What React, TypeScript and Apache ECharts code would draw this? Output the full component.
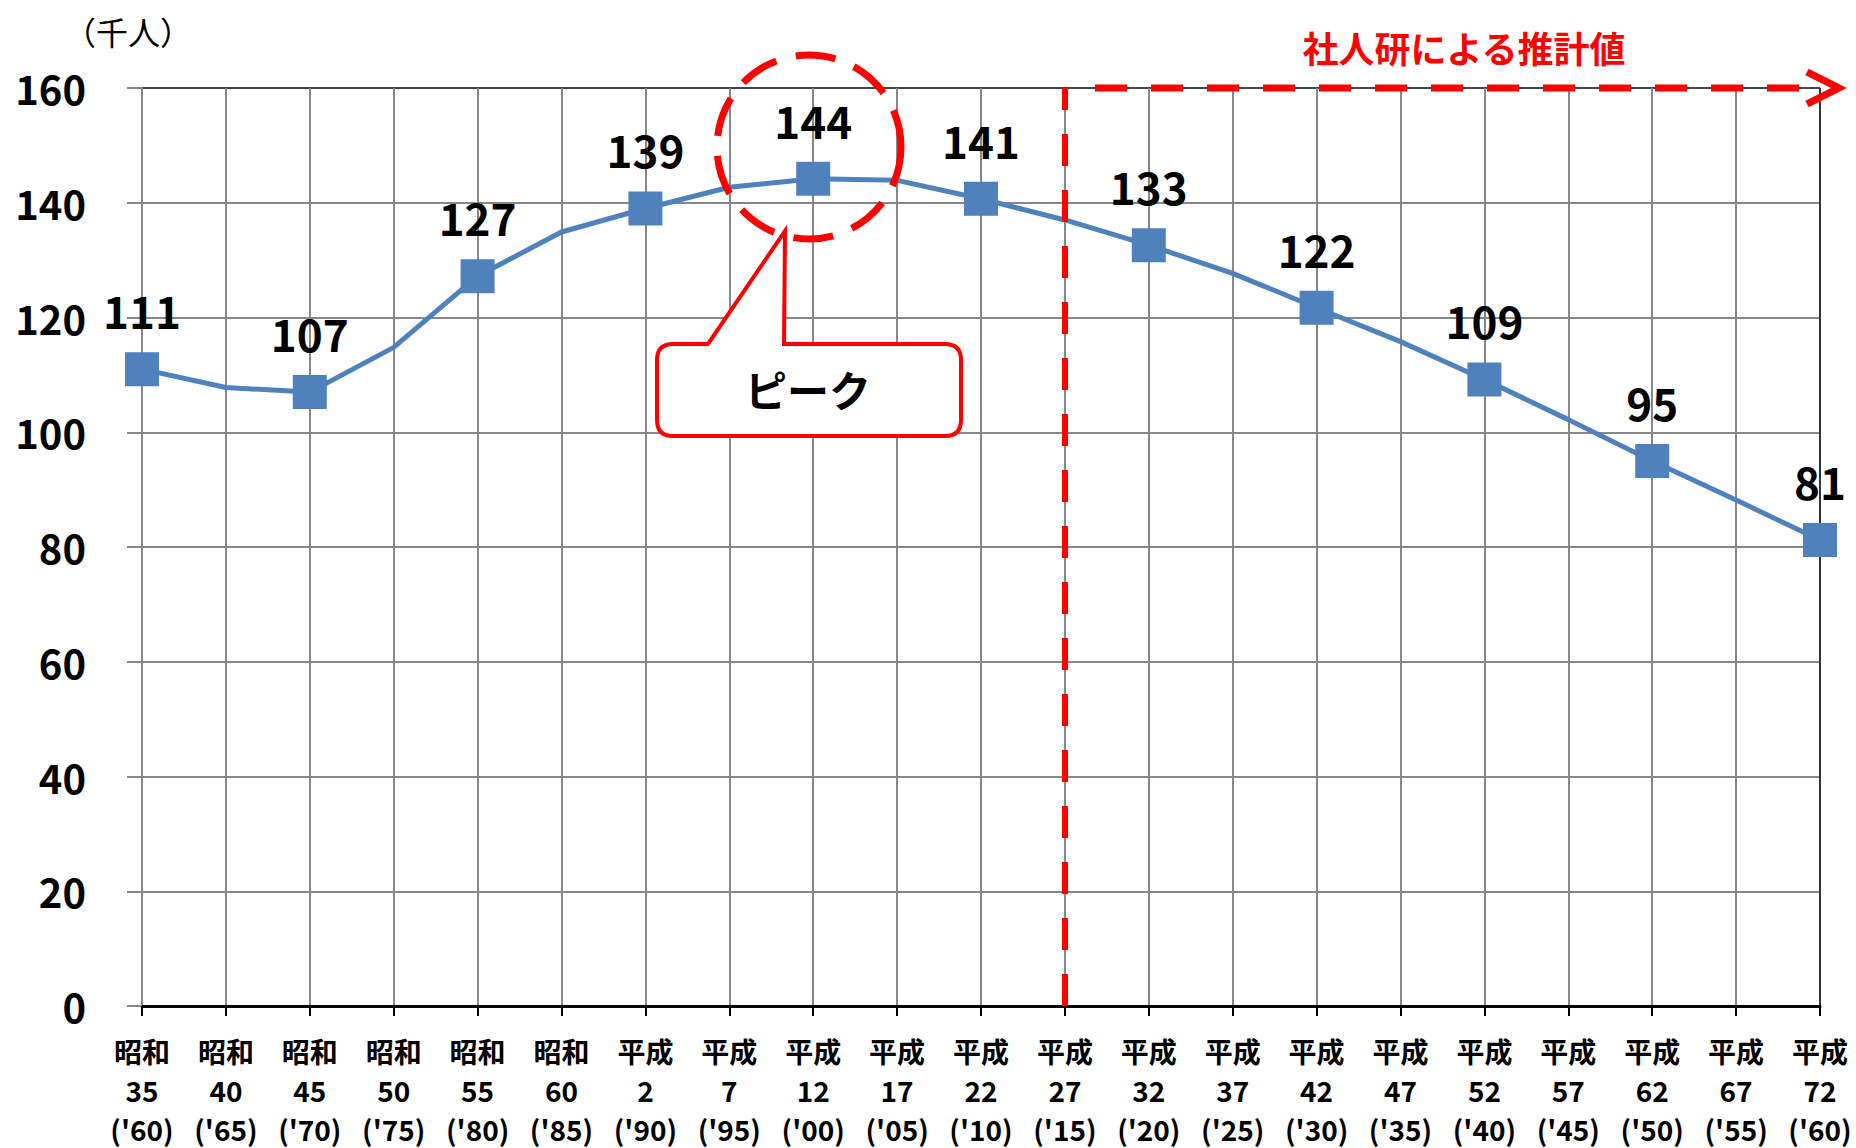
import React, { useEffect, useRef } from "react";
import * as echarts from "echarts";

const eras = [
  "昭和", "昭和", "昭和", "昭和", "昭和", "昭和",
  "平成", "平成", "平成", "平成", "平成", "平成", "平成", "平成", "平成",
  "平成", "平成", "平成", "平成", "平成", "平成",
];
const eraYears = ["35", "40", "45", "50", "55", "60", "2", "7", "12", "17", "22", "27", "32", "37", "42", "47", "52", "57", "62", "67", "72"];
const westernYears = ["60", "65", "70", "75", "80", "85", "90", "95", "00", "05", "10", "15", "20", "25", "30", "35", "40", "45", "50", "55", "60"];

const population = [111.0, 107.8, 107.0, 114.8, 127.2, 134.9, 139.0, 142.7, 144.2, 143.9, 140.7, 137.0, 132.6, 127.7, 121.7, 115.8, 109.2, 102.2, 95.0, 88.2, 81.2];
const pointLabels = ["111", "", "107", "", "127", "", "139", "", "144", "", "141", "", "133", "", "122", "", "109", "", "95", "", "81"];

const yTicks = [0, 20, 40, 60, 80, 100, 120, 140, 160];
const estimateStartIndex = 11;

const FONT = "'Noto Sans CJK JP', 'Noto Sans', sans-serif";
const RED = "#FF0000";
const BLUE = "#4F81BD";
const GRID = "#878787";

const calloutPath =
  "M 673 344 L 708 344 L 785 231 L 784 344 L 945 344 Q 961 344 961 360 L 961 420 Q 961 436 945 436 L 673 436 Q 657 436 657 420 L 657 360 Q 657 344 673 344 Z";
echarts.graphic.registerShape("callout", echarts.graphic.extendPath(calloutPath, {}));

export default function App() {
  const ref = useRef<HTMLDivElement>(null);

  useEffect(() => {
    if (!ref.current) return;
    const chart = echarts.init(ref.current, undefined, { renderer: "svg" });
    const categories = eras.map((e, i) => `${e}\n${eraYears[i]}\n('${westernYears[i]})`);
    const data = population.map((v, i) =>
      pointLabels[i]
        ? { value: v }
        : { value: v, symbol: "none", label: { show: false } }
    );
    const xSplitColors = categories.map((_, i) => (i === categories.length - 1 ? "#333333" : GRID));
    const ySplitColors = yTicks.map((_, i) => (i === yTicks.length - 1 ? "#444444" : GRID));

    chart.setOption({
      animation: false,
      backgroundColor: "#ffffff",
      grid: { left: 142, right: 36, top: 88, bottom: 140, containLabel: false },
      xAxis: {
        type: "category",
        data: categories,
        boundaryGap: false,
        axisLine: { show: true, lineStyle: { color: "#000000", width: 3 } },
        axisTick: { show: true, interval: 0, length: 10, lineStyle: { color: "#000000", width: 2 } },
        splitLine: { show: true, interval: 0, lineStyle: { color: xSplitColors, width: 2 } },
        axisLabel: {
          interval: 0,
          hideOverlap: false,
          margin: 25,
          color: "#000000",
          fontFamily: FONT,
          fontWeight: "bold",
          fontSize: 28,
          lineHeight: 39,
        },
      },
      yAxis: {
        type: "value",
        min: 0,
        max: 160,
        interval: 20,
        axisLine: { show: true, lineStyle: { color: GRID, width: 2 } },
        axisTick: { show: true, length: 15, lineStyle: { color: GRID, width: 2 } },
        splitLine: { show: true, lineStyle: { color: ySplitColors, width: 2 } },
        axisLabel: {
          margin: 56,
          color: "#000000",
          fontFamily: FONT,
          fontWeight: "bold",
          fontSize: 40,
        },
      },
      series: [
        {
          type: "line",
          data,
          symbol: "rect",
          symbolSize: 34,
          itemStyle: { color: BLUE },
          lineStyle: { color: BLUE, width: 5 },
          label: {
            show: true,
            position: "top",
            distance: 20,
            color: "#000000",
            fontFamily: FONT,
            fontWeight: "bold",
            fontSize: 44,
            lineHeight: 44,
            formatter: (p: any) => pointLabels[p.dataIndex],
          },
          markLine: {
            silent: true,
            symbol: ["none", "none"],
            label: { show: false },
            lineStyle: { color: RED, width: 6, type: [32, 24] },
            data: [{ xAxis: estimateStartIndex }],
          },
          z: 3,
        },
      ],
      graphic: [
        {
          type: "text",
          x: 128,
          y: 31,
          z: 100,
          style: {
            text: "（千人）",
            fill: "#000000",
            font: `normal 32px ${FONT}`,
            textAlign: "center",
            textVerticalAlign: "middle",
          },
        },
        {
          type: "text",
          x: 1464,
          y: 47,
          z: 100,
          style: {
            text: "社人研による推計値",
            fill: RED,
            font: `bold 36px ${FONT}`,
            textAlign: "center",
            textVerticalAlign: "middle",
          },
        },
        {
          type: "line",
          z: 100,
          shape: { x1: 1095, y1: 88, x2: 1800, y2: 88 },
          style: { stroke: RED, lineWidth: 7, lineDash: [32, 24] },
        },
        {
          type: "polyline",
          z: 100,
          shape: { points: [[1807, 72], [1839, 88], [1807, 104]] },
          style: { stroke: RED, lineWidth: 7, fill: null, lineJoin: "miter" },
        },
        {
          type: "circle",
          z: 100,
          shape: { cx: 809, cy: 147, r: 92 },
          style: { stroke: RED, lineWidth: 7, fill: null, lineDash: [40, 20] },
        },
        {
          type: "callout",
          x: 0,
          y: 0,
          z: 100,
          style: { stroke: RED, lineWidth: 4, fill: "#ffffff" },
        },
        {
          type: "text",
          x: 808,
          y: 388,
          z: 101,
          style: {
            text: "ピーク",
            fill: "#000000",
            font: `bold 42px ${FONT}`,
            textAlign: "center",
            textVerticalAlign: "middle",
          },
        },
      ],
    });
    return () => chart.dispose();
  }, []);

  return (
    <div
      ref={ref}
      style={{ position: "fixed", left: 0, top: 0, width: 1856, height: 1148, background: "#fff" }}
    />
  );
}
